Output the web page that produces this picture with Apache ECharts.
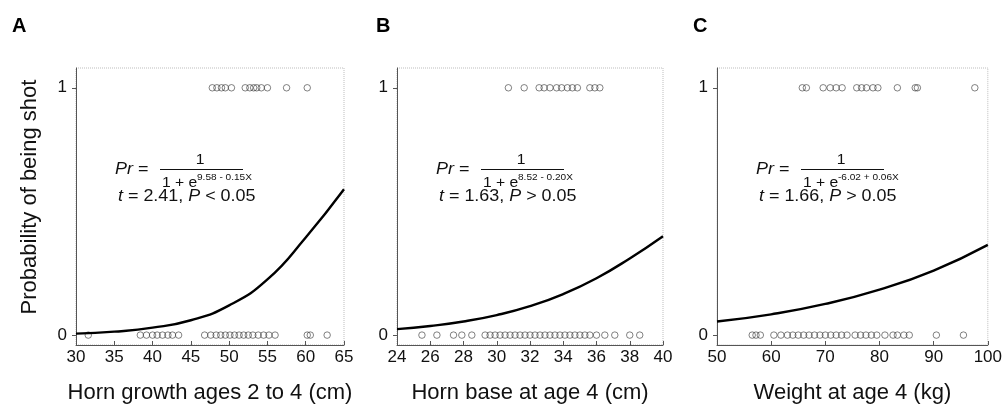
<!DOCTYPE html>
<html>
<head>
<meta charset="utf-8">
<script src="https://cdn.jsdelivr.net/npm/echarts@6/dist/echarts.min.js"></script>
<style>
  html, body { margin: 0; padding: 0; background: #fff; }
  #chart { width: 1005px; height: 409px; }
</style>
</head>
<body>
<div id="chart"></div>
<script>
// panel A - horn growth ages 2 to 4 (cm)
var hornGrowthShot = [47.8, 48.4, 49.0, 49.5, 50.3, 52.1, 52.7, 53.2, 53.6, 54.2, 55.0, 57.5, 60.2];
var hornGrowthNot = [31.6, 38.4, 39.2, 40.0, 40.6, 41.3, 42.0, 42.6, 43.4, 46.8, 47.6, 48.3, 48.9,
  49.5, 50.1, 50.7, 51.3, 51.9, 52.5, 53.1, 53.8, 54.5, 55.2, 56.0, 60.2, 60.6, 62.8];
var hornGrowthCurveX = [30, 35, 40, 45, 50, 55, 60, 65];
var hornGrowthCurveY = [0.006, 0.014, 0.03, 0.06, 0.12, 0.225, 0.395, 0.59];

// panel B - horn base at age 4 (cm)
var hornBaseShot = [30.7, 31.65, 32.55, 32.85, 33.2, 33.6, 33.9, 34.25, 34.55, 34.85, 35.6, 35.9, 36.2];
var hornBaseNot = [25.5, 26.4, 27.4, 27.9, 28.5, 29.3, 29.6, 29.9, 30.2, 30.5, 30.8, 31.1, 31.4,
  31.7, 32.0, 32.3, 32.6, 32.9, 33.2, 33.5, 33.8, 34.1, 34.4, 34.7, 35.0, 35.3, 35.6, 36.0,
  36.5, 37.1, 38.0, 38.6];
var hornBaseCurveX = [24, 26, 28, 30, 32, 34, 36, 38, 40];
var hornBaseCurveY = [0.024, 0.037, 0.055, 0.081, 0.117, 0.166, 0.23, 0.31, 0.4];

// panel C - weight at age 4 (kg)
var weightShot = [65.75, 66.5, 69.6, 70.9, 72.0, 73.1, 75.8, 76.7, 77.6, 78.8, 79.7, 83.3, 86.6, 87.0, 97.6];
var weightNot = [56.5, 57.2, 58.0, 60.5, 61.8, 63.0, 64.0, 65.0, 66.0, 67.0, 68.0, 69.0, 70.0,
  71.0, 72.0, 73.0, 74.0, 75.5, 76.5, 77.5, 78.5, 79.5, 81.0, 82.5, 83.3, 84.5, 85.5, 90.5, 95.5];
var weightCurveX = [50, 60, 70, 80, 90, 100];
var weightCurveY = [0.055, 0.084, 0.126, 0.184, 0.261, 0.365];

var panelLetters = ['A', 'B', 'C'];
var xNames = ['Horn growth ages 2 to 4 (cm)', 'Horn base at age 4 (cm)', 'Weight at age 4 (kg)'];
var yName = 'Probability of being shot';
var xMin = [30, 24, 50];
var xMax = [65, 40, 100];
var xStep = [5, 2, 10];
var exponents = ['9.58 - 0.15X', '8.52 - 0.20X', '-6.02 + 0.06X'];
var tValues = ['2.41', '1.63', '1.66'];
var pSigns = ['<', '>', '>'];

var font = 'Liberation Sans, Arial, Helvetica, sans-serif';
var gridLeft = [76, 397, 717];
var gridWidth = [268, 266, 273];
var letterLeft = [12, 376, 693];
var gridTop = 68, gridHeight = 277;
var wide = 1.12; // the printed formula text is set a bit wide

var grids = [], xAxes = [], yAxes = [], series = [], graphics = [];

function pairs(xs, y) {
  return xs.map(function (x) { return [x, y]; });
}
function zip(xs, ys) {
  return xs.map(function (x, i) { return [x, ys[i]]; });
}

var shot = [hornGrowthShot, hornBaseShot, weightShot];
var notShot = [hornGrowthNot, hornBaseNot, weightNot];
var curveX = [hornGrowthCurveX, hornBaseCurveX, weightCurveX];
var curveY = [hornGrowthCurveY, hornBaseCurveY, weightCurveY];

function txt(x, y, text, size, align) {
  return {
    type: 'text', x: x, y: y, scaleX: wide,
    style: {
      text: text, fontSize: size, fontFamily: font, fill: '#111',
      align: align || 'left', verticalAlign: 'middle',
      rich: { i: { fontStyle: 'italic', fontSize: size, fontFamily: font, fill: '#111' } }
    }
  };
}

for (var i = 0; i < 3; i++) {
  grids.push({
    left: gridLeft[i], top: gridTop, width: gridWidth[i], height: gridHeight,
    show: true, borderColor: '#bdbdbd', borderWidth: 1, borderType: 'dotted'
  });
  xAxes.push({
    gridIndex: i, type: 'value', min: xMin[i], max: xMax[i], interval: xStep[i],
    name: xNames[i], nameLocation: 'middle', nameGap: 37,
    nameTextStyle: { fontFamily: font, fontSize: 22, color: '#111' },
    axisLine: { onZero: false, lineStyle: { color: '#555', width: 1 } },
    axisTick: { inside: true, length: 4, lineStyle: { color: '#555' } },
    axisLabel: { fontFamily: font, fontSize: 17, color: '#111', margin: 4 },
    splitLine: { show: false }
  });
  yAxes.push({
    gridIndex: i, type: 'value', min: -0.04, max: 1.08,
    axisLine: { lineStyle: { color: '#555', width: 1 } },
    axisTick: { length: 4, lineStyle: { color: '#555' }, customValues: [0, 1] },
    axisLabel: { fontFamily: font, fontSize: 17, color: '#111', margin: 9, customValues: [0, 1] },
    splitLine: { show: false }
  });
  var dot = {
    type: 'scatter', xAxisIndex: i, yAxisIndex: i, symbol: 'circle', symbolSize: 6.5,
    itemStyle: { color: 'rgba(0,0,0,0)', borderColor: '#3a3a3a', borderWidth: 0.8 },
    silent: true
  };
  series.push(Object.assign({}, dot, { data: pairs(shot[i], 1) }));
  series.push(Object.assign({}, dot, { data: pairs(notShot[i], 0) }));
  series.push({
    type: 'line', xAxisIndex: i, yAxisIndex: i, data: zip(curveX[i], curveY[i]),
    smooth: true, showSymbol: false, lineStyle: { color: '#000', width: 2.4 }, silent: true
  });

  var ox = gridLeft[i];
  graphics.push({
    type: 'text', x: letterLeft[i], y: 16,
    style: { text: panelLetters[i], fontSize: 20, fontWeight: 'bold', fontFamily: font, fill: '#000' }
  });
  graphics.push(txt(ox + 39, 170, '{i|Pr} =', 16));
  graphics.push(txt(ox + 124, 160, '1', 14, 'center'));
  graphics.push({
    type: 'line', shape: { x1: ox + 84, y1: 169.5, x2: ox + 167, y2: 169.5 },
    style: { stroke: '#111', lineWidth: 1 }
  });
  graphics.push(txt(ox + 86, 183, '1 + e', 14));
  graphics.push(txt(ox + 121, 177.5, exponents[i], 9));
  graphics.push(txt(ox + 42, 197, '{i|t} = ' + tValues[i] + ', {i|P} ' + pSigns[i] + ' 0.05', 16));
}

// y-axis title, shared by the three panels
graphics.push({
  type: 'text', x: 30, y: 197, rotation: Math.PI / 2,
  style: { text: yName, fontSize: 22, fontFamily: font, fill: '#111', align: 'center', verticalAlign: 'middle' }
});

var chart = echarts.init(document.getElementById('chart'));
chart.setOption({
  animation: false,
  backgroundColor: '#fff',
  textStyle: { fontFamily: font },
  grid: grids,
  xAxis: xAxes,
  yAxis: yAxes,
  series: series,
  graphic: graphics
});
</script>
</body>
</html>
